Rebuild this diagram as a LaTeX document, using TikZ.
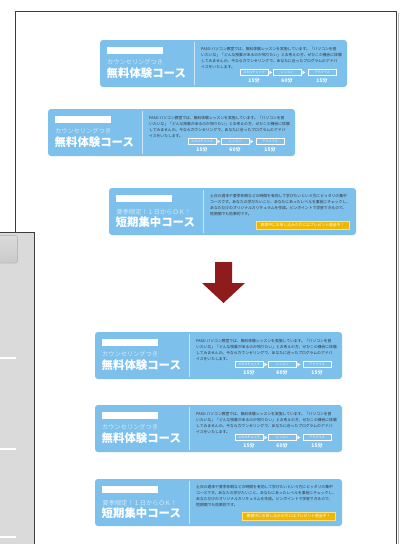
\documentclass[tikz,border=0pt]{standalone}
\usepackage{fontspec}
\newfontfamily\jp{Noto Sans CJK JP}
\usetikzlibrary{calc}
\definecolor{bannerblue}{HTML}{7DC0EC}
\definecolor{paletext}{HTML}{D4EBFA}
\definecolor{divline}{HTML}{CDE5F7}
\definecolor{btnyellow}{HTML}{EFB700}
\definecolor{btnedge}{HTML}{FFE27A}
\definecolor{arrowred}{HTML}{8E1C1C}
\definecolor{panelgray}{HTML}{DADADA}
\definecolor{framegray}{HTML}{3C3C3C}
\definecolor{bodytext}{HTML}{333333}
\tikzset{
 banner/.style={fill=bannerblue, rounded corners=3pt, draw=none},
 divider/.style={draw=divline, line width=0.8pt},
 whitebar/.style={fill=white, draw=none},
 subtitle/.style={anchor=west, inner sep=0, text=paletext, font=\jp\fontsize{6.2}{6.2}\selectfont},
 title/.style={anchor=west, inner sep=0, text=white, font=\jp\bfseries\fontsize{11.4}{11.4}\selectfont},
 bodyline/.style={anchor=west, inner sep=0, text=bodytext, font=\jp\fontsize{3.8}{3.8}\selectfont},
 flowbox/.style={draw=white, line width=0.6pt, fill=bannerblue, minimum width=28pt, minimum height=6pt, inner sep=0, text=white, font=\jp\fontsize{3.1}{3.1}\selectfont},
 flowtip/.style={fill=white, draw=none},
 minutes/.style={inner sep=0, text=white, font=\jp\bfseries\fontsize{5}{5}\selectfont},
 giftbtn/.style={fill=btnyellow, draw=btnedge, line width=0.6pt, minimum width=93pt, minimum height=8pt, inner sep=0, text=white, font=\jp\fontsize{3.8}{3.8}\selectfont},
}
\newcommand\trialbanner[3]{%
\begin{scope}[shift={(#2,#3)}]
 \fill[banner] (0,0) rectangle (247,47);
 \draw[divider] (94,2) -- (94,45);
 \fill[whitebar] (7,7) rectangle (63,14);
 \node[subtitle] (#1-sub) at (7,22) {カウンセリングつき};
 \node[title] (#1-title) at (6.5,33.5) {無料体験コース};
 \node[bodyline] (#1-l1) at (101,9.5) {PASO パソコン教室では、無料体験レッスンを実施しています。「パソコンを習};
 \node[bodyline] (#1-l2) at (101,15.4) {いたいな」「どんな授業があるのか知りたい」とお考えの方、ぜひこの機会に体験};
 \node[bodyline] (#1-l3) at (101,21.4) {してみませんか。今ならカウンセリングで、あなたに合ったプログラムのアドバ};
 \node[bodyline] (#1-l4) at (101,27.3) {イスをいたします。};
 \node[flowbox] (#1-b1) at (154,32.5) {スキルチェック};
 \node[flowbox] (#1-b2) at (187,32.5) {レッスン};
 \node[flowbox] (#1-b3) at (222,32.5) {アドバイス};
 \fill[flowtip] ($(#1-b1.east)+(1,-2)$) -- ($(#1-b1.east)+(4,0)$) -- ($(#1-b1.east)+(1,2)$) -- cycle;
 \fill[flowtip] ($(#1-b2.east)+(1,-2)$) -- ($(#1-b2.east)+(4,0)$) -- ($(#1-b2.east)+(1,2)$) -- cycle;
 \node[minutes] (#1-m1) at (154,40.5) {15分};
 \node[minutes] (#1-m2) at (187,40.5) {60分};
 \node[minutes] (#1-m3) at (222,40.5) {15分};
\end{scope}}
\newcommand\shortbanner[3]{%
\begin{scope}[shift={(#2,#3)}]
 \fill[banner] (0,0) rectangle (247,47);
 \draw[divider] (94,2) -- (94,45);
 \fill[whitebar] (7,7) rectangle (63,14);
 \node[subtitle] (#1-sub) at (7.5,24) {夏季限定！１日からＯＫ！};
 \node[title] (#1-title) at (6.5,34) {短期集中コース};
 \node[bodyline] (#1-l1) at (101,8.5) {土日の週末や夏季休暇などの時間を有効して学びたいという方にピッタリの集中};
 \node[bodyline] (#1-l2) at (101,14.3) {コースです。あなたの学びたいこと、あなたにあったレベルを事前にチェックし、};
 \node[bodyline] (#1-l3) at (101,20.1) {あなただけのオリジナルカリキュラムを作成。ピンポイントで学習できるので、};
 \node[bodyline] (#1-l4) at (101,25.9) {短期間でも効果的です。};
 \node[giftbtn] (#1-gift) at (193.5,37) {期間中にお申し込みの方にはプレゼント進呈中！};
\end{scope}}
\begin{document}
\begin{tikzpicture}[x=1pt,y=-1pt]
\useasboundingbox (0,0) rectangle (404,544);
\clip (0,0) rectangle (404,544);
\fill[white] (0,0) rectangle (404,544);
% page frame
\draw[gray!55, line width=1pt] (398.3,13) -- (398.3,550);
\draw[framegray, line width=0.8pt] (15.5,550) -- (15.5,11.3) -- (396.8,11.3) -- (396.8,550);
% banners, before
\trialbanner{t1}{100}{40}
\trialbanner{t2}{48}{109}
\shortbanner{s1}{109}{188}
% arrow
\fill[arrowred] (215,262) -- (232,262) -- (232,283) -- (245,283) -- (223.5,303) -- (202,283) -- (215,283) -- cycle;
% banners, after
\trialbanner{t3}{95}{332}
\trialbanner{t4}{95}{405}
\shortbanner{s2}{95}{479}
% left side panel
\fill[panelgray] (-2,232) rectangle (34.7,550);
\draw[framegray, line width=0.8pt] (-2,232) -- (34.7,232) -- (34.7,550);
\shadedraw[top color=gray!28, bottom color=gray!42, draw=gray!55, rounded corners=2pt, line width=0.6pt] (-4,235.5) rectangle (17.5,263);
\draw[white, line width=1.2pt] (-1,358) -- (16,358);
\draw[white, line width=1.2pt] (-1,449) -- (16,449);
\draw[white, line width=1.2pt] (-1,537) -- (16,537);
\end{tikzpicture}
\end{document}
